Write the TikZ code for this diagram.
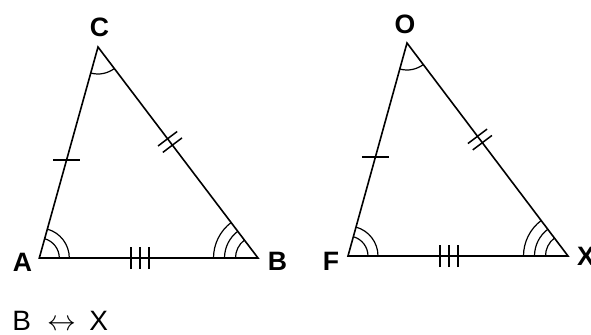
\documentclass[tikz,border=0pt]{standalone}
\usepackage{fontspec}
\setmainfont{Liberation Sans}
\usetikzlibrary{calc, angles, decorations.markings}

\begin{document}
\begin{tikzpicture}[x=0.5pt, y=0.5pt,
    side/.style={draw=black, line width=0.8pt, line join=miter},
    vlabel/.style={font=\fontsize{13.3}{16}\selectfont\bfseries, inner sep=0pt},
    arcmark/.style={draw=black, line width=0.6pt},
    hashline/.style={draw=black, line width=0.75pt},
    twohash/.style={decorate, decoration={markings, mark=at position #1 with {\draw[hashline] (-2pt,-6pt) -- (-2pt,6pt) (2pt,-6pt) -- (2pt,6pt);}}},
    threehash/.style={decorate, decoration={markings, mark=at position #1 with {\draw[hashline] (-4.5pt,-5.5pt) -- (-4.5pt,5.5pt) (0pt,-5.5pt) -- (0pt,5.5pt) (4.5pt,-5.5pt) -- (4.5pt,5.5pt);}}}]
  \useasboundingbox (0,0) rectangle (591,334);

  % first triangle
  \coordinate (A) at (39.3, 76);
  \coordinate (B) at (258, 76);
  \coordinate (C) at (98, 287);
  \draw[side] (A) -- (B) -- (C) -- cycle;

  \node[vlabel] (labA) at (22.5, 72) {A};
  \node[vlabel] (labB) at (277.5, 72.5) {B};
  \node[vlabel] (labC) at (99.5, 306.5) {C};

  \coordinate (acm) at ($(C)!0.536!(A)$);
  \draw[hashline] ($(acm)+(-13.5,0)$) -- ($(acm)+(13.5,0)$);
  \path[twohash=0.45] (C) -- (B);
  \path[threehash=0.46] (A) -- (B);

  \pic[arcmark, angle radius=10pt] {angle=B--A--C};
  \pic[arcmark, angle radius=15pt] {angle=B--A--C};
  \pic[arcmark, angle radius=11.25pt] {angle=C--B--A};
  \pic[arcmark, angle radius=16.75pt] {angle=C--B--A};
  \pic[arcmark, angle radius=22.25pt] {angle=C--B--A};
  \pic[arcmark, angle radius=13.5pt] {angle=A--C--B};

  % second triangle
  \coordinate (F) at (348, 78);
  \coordinate (X) at (568, 78);
  \coordinate (O) at (407, 291);
  \draw[side] (F) -- (X) -- (O) -- cycle;

  \node[vlabel] (labF) at (331, 73) {F};
  \node[vlabel] (labX) at (586, 77.5) {X};
  \node[vlabel] (labO) at (405, 310) {O};

  \coordinate (ofm) at ($(O)!0.535!(F)$);
  \draw[hashline] ($(ofm)+(-13.5,0)$) -- ($(ofm)+(13.5,0)$);
  \path[twohash=0.453] (O) -- (X);
  \path[threehash=0.459] (F) -- (X);

  \pic[arcmark, angle radius=10pt] {angle=X--F--O};
  \pic[arcmark, angle radius=15pt] {angle=X--F--O};
  \pic[arcmark, angle radius=11.25pt] {angle=O--X--F};
  \pic[arcmark, angle radius=16.75pt] {angle=O--X--F};
  \pic[arcmark, angle radius=22.25pt] {angle=O--X--F};
  \pic[arcmark, angle radius=13.5pt] {angle=F--O--X};

  \node[anchor=base west, inner sep=0pt, font=\fontsize{14}{17}\selectfont] (match) at (12, 4) {B\hspace{8.3pt}{\fontsize{14.4}{17}\selectfont$\leftrightarrow$}\hspace{6.4pt}X};
\end{tikzpicture}
\end{document}
